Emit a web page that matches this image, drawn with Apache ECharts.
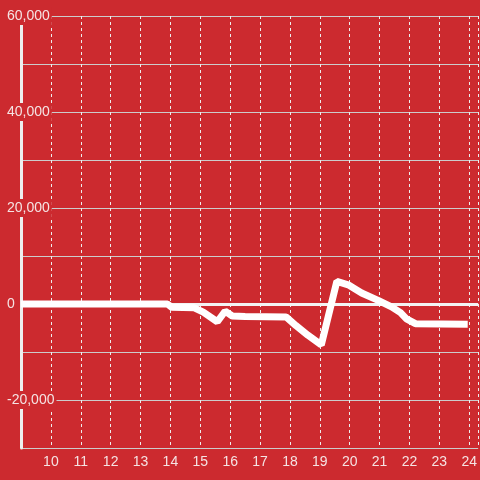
<!DOCTYPE html>
<html>
<head>
<meta charset="utf-8">
<script src="https://cdn.jsdelivr.net/npm/echarts@6/dist/echarts.min.js"></script>
<style>
  html, body { margin: 0; padding: 0; background: #cc2a2f; }
  #chart { width: 480px; height: 480px; }
</style>
</head>
<body>
<div id="chart"></div>
<script>
// hour of day -> value
const hours = [9.0, 13.9, 14.05, 14.8, 15.1, 15.57, 15.83, 16.07, 16.5, 17.87, 18.2, 18.6, 19.05,
  19.57, 19.95, 20.4, 20.97, 21.4, 21.7, 21.9, 22.2, 23.95];
const values = [0, 0, -700, -800, -1700, -3700, -1500, -2500, -2600, -2700, -4500, -6500, -8500,
  4700, 4000, 2300, 700, -600, -1800, -3100, -4100, -4200];
const yLabelValues = [60000, 40000, 20000, 0, -20000];

const textColor = '#f5e3e3';
const bg = '#cc2a2f';

const chart = echarts.init(document.getElementById('chart'));

chart.setOption({
  backgroundColor: bg,
  animation: false,
  grid: { left: 21, right: 0, top: 16, bottom: 32, containLabel: false },
  xAxis: {
    type: 'value',
    min: 9,
    max: 24.3,
    interval: 1,
    axisLine: { show: false },
    axisTick: { show: false },
    splitLine: { show: true, lineStyle: { color: '#eee', width: 1, type: [3, 3] } },
    axisLabel: {
      color: textColor,
      fontSize: 14,
      fontFamily: 'Liberation Sans',
      margin: 7,
      showMinLabel: false,
      showMaxLabel: false,
    },
  },
  yAxis: {
    type: 'value',
    min: -30000,
    max: 60000,
    interval: 10000,
    axisLine: { show: true, lineStyle: { color: '#eee', width: 3 } },
    axisTick: { show: false },
    splitLine: { show: true, lineStyle: { color: '#ccc', width: 1 } },
    axisLabel: {
      color: textColor,
      fontSize: 14,
      fontFamily: 'Liberation Sans',
      align: 'left',
      margin: 14,
      backgroundColor: bg,
      padding: [2, 2, 2, 0],
      formatter: (v) => yLabelValues.includes(v) ? v.toLocaleString('en-US') : '',
    },
  },
  series: [
    {
      type: 'line',
      data: hours.map((h, i) => [h, values[i]]),
      symbol: 'none',
      lineStyle: { color: '#fff', width: 7 },
      markLine: {
        silent: true,
        symbol: 'none',
        label: { show: false },
        lineStyle: { color: '#f3f3f3', width: 3, type: 'solid' },
        data: [{ yAxis: 0 }],
        z: 1,
      },
    },
  ],
});
</script>
</body>
</html>
